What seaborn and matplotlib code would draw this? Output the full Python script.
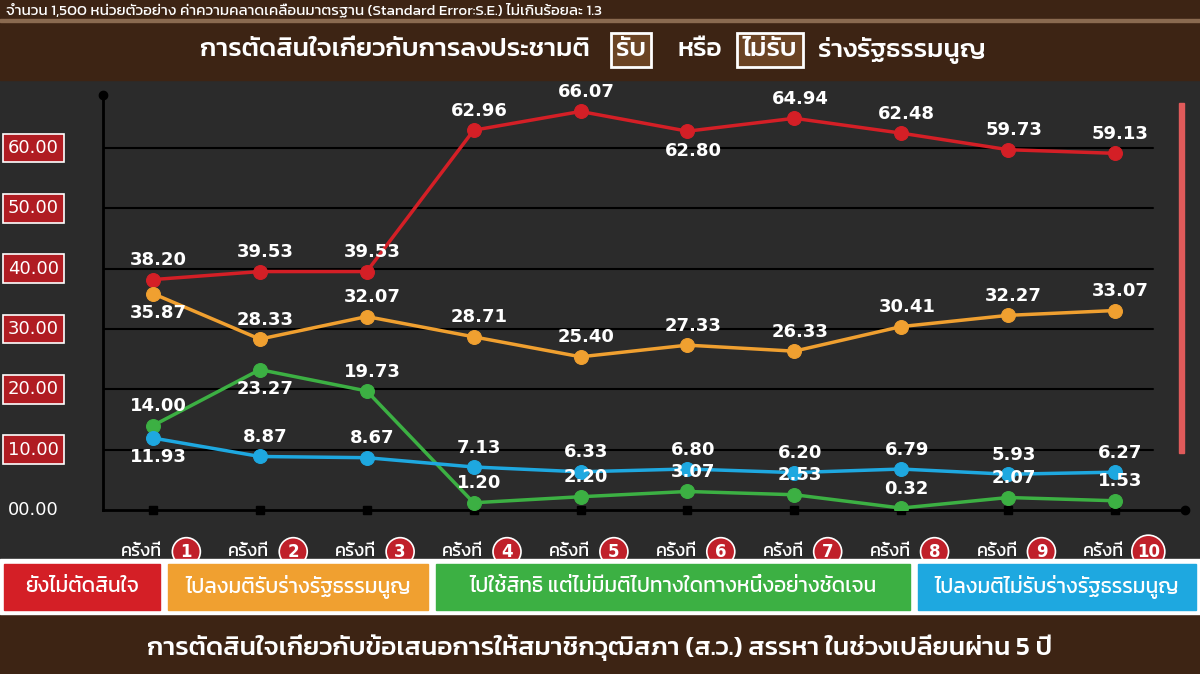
import numpy as np
import pandas as pd
import seaborn as sns
import matplotlib
matplotlib.use("Agg")
import matplotlib.pyplot as plt
from matplotlib.patches import Rectangle

rounds = ["1", "2", "3", "4", "5", "6", "7", "8", "9", "10"]
undecided = [38.20, 39.53, 39.53, 62.96, 66.07, 62.80, 64.94, 62.48, 59.73, 59.13]
accept = [35.87, 28.33, 32.07, 28.71, 25.40, 27.33, 26.33, 30.41, 32.27, 33.07]
novote = [14.00, 23.27, 19.73, 1.20, 2.20, 3.07, 2.53, 0.32, 2.07, 1.53]
reject = [11.93, 8.87, 8.67, 7.13, 6.33, 6.80, 6.20, 6.79, 5.93, 6.27]
yticks = [0, 10, 20, 30, 40, 50, 60]
ytick_labels = ["00.00", "10.00", "20.00", "30.00", "40.00", "50.00", "60.00"]
legend_labels = ["ยังไม่ตัดสินใจ", "ไปลงมติรับร่างรัฐธรรมนูญ",
                 "ไปใช้สิทธิ แต่ไม่มีมติไปทางใดทางหนึ่งอย่างชัดเจน", "ไปลงมติไม่รับร่างรัฐธรรมนูญ"]
colors = ["#d41f26", "#f0a030", "#3cb043", "#1ea8e0"]
# label placement: +1 above, -1 below
red_pos = [1, 1, 1, 1, 1, -1, 1, 1, 1, 1]
org_pos = [-1, 1, 1, 1, 1, 1, 1, 1, 1, 1]
grn_pos = [1, -1, 1, 1, 1, 1, 1, 1, 1, 1]
blu_pos = [-1, 1, 1, 1, 1, 1, 1, 1, 1, 1]

sns.set_theme(style="dark")
plt.rcParams['font.family'] = ['Kanit', 'DejaVu Sans']
NUM = ['DejaVu Sans']

brown = "#3d2414"
fig = plt.figure(figsize=(12, 6.74), dpi=100, facecolor="#2b2b2b")

# header / footer bands
fig.patches.append(Rectangle((0, 1 - 80 / 674), 1, 80 / 674, transform=fig.transFigure, color=brown, zorder=0))
fig.patches.append(Rectangle((0, 1 - 22 / 674), 1, 3 / 674, transform=fig.transFigure, color="#8a6a50", zorder=1))
fig.patches.append(Rectangle((0, 0), 1, 60 / 674, transform=fig.transFigure, color=brown, zorder=0))
fig.patches.append(Rectangle((0, 60 / 674), 1, 55 / 674, transform=fig.transFigure, color="white", zorder=0))
fig.text(0.005, 1 - 10 / 674, "จำนวน 1,500 หน่วยตัวอย่าง ค่าความคลาดเคลื่อนมาตรฐาน (Standard Error:S.E.) ไม่เกินร้อยละ 1.3",
         color="white", fontsize=11, va="center", ha="left")
ty = 1 - 50 / 674
tkw = dict(color="white", fontsize=19, fontweight="medium", va="center")
fig.text(590 / 1200, ty, "การตัดสินใจเกี่ยวกับการลงประชามติ", ha="right", **tkw)
fig.text(631 / 1200, ty, "รับ", ha="center", **tkw,
         bbox=dict(boxstyle="square,pad=0.2", fc="#6b4424", ec="white", lw=2))
fig.text(700 / 1200, ty, "หรือ", ha="center", **tkw)
fig.text(770 / 1200, ty, "ไม่รับ", ha="center", **tkw,
         bbox=dict(boxstyle="square,pad=0.2", fc="#6b4424", ec="white", lw=2))
fig.text(818 / 1200, ty, "ร่างรัฐธรรมนูญ", ha="left", **tkw)
fig.text(0.5, 26 / 674, "การตัดสินใจเกี่ยวกับข้อเสนอการให้สมาชิกวุฒิสภา (ส.ว.) สรรหา ในช่วงเปลี่ยนผ่าน 5 ปี",
         color="white", fontsize=19, fontweight="medium", ha="center", va="center")

# legend boxes
edges = [0, 164, 432, 914, 1200]
for i, lab in enumerate(legend_labels):
    x0 = (edges[i] + 4) / 1200
    w = (edges[i + 1] - edges[i] - 8) / 1200
    fig.patches.append(Rectangle((x0, 64 / 674), w, 46 / 674, transform=fig.transFigure, color=colors[i], zorder=1))
    fig.text(x0 + w / 2, 87 / 674, lab, color="white", fontsize=15, ha="center", va="center", zorder=2)

ax = fig.add_axes([103 / 1200, 1 - 510 / 674, 1082 / 1200, 415 / 674])
ax.set_facecolor("#2b2b2b")
x = np.arange(len(rounds))
df = pd.DataFrame({"x": x, "u": undecided, "a": accept, "n": novote, "r": reject})
series = [("u", red_pos), ("a", org_pos), ("n", grn_pos), ("r", blu_pos)]
for (col, pos), c in zip(series, colors):
    sns.lineplot(data=df, x="x", y=col, ax=ax, color=c, lw=2.5, marker="o", markersize=10,
                 markeredgecolor=c, zorder=3)
    for xi, yi, p in zip(df["x"], df[col], pos):
        ax.annotate(f"{yi:.2f}", (xi, yi), xytext=(4, 14 * p), textcoords="offset points",
                    ha="center", va="center", color="white", fontsize=13, fontweight="bold",
                    family=NUM, zorder=4)

ax.set_xlim(-0.468, 9.655)
ax.set_ylim(0, 68.8)
ax.set_yticks(yticks)
ax.set_yticklabels([])
ax.set_xticks(x)
ax.set_xticklabels([])
ax.tick_params(length=0)
ax.set_xlabel("")
ax.set_ylabel("")
ax.grid(False)
for t in yticks[1:]:
    ax.axhline(t, color="black", lw=1.5, xmax=0.97, zorder=1)
for s in ["top", "right"]:
    ax.spines[s].set_visible(False)
for s in ["left", "bottom"]:
    ax.spines[s].set_color("black")
    ax.spines[s].set_linewidth(2)
ax.plot([-0.468], [68.8], "o", color="black", ms=6, clip_on=False)
ax.plot([9.655], [0], "o", color="black", ms=6, clip_on=False)
ax.plot(x, np.zeros(len(x)), "s", color="black", ms=6, clip_on=False)
ax.add_patch(Rectangle((9.6, 9.4), 0.05, 58, color="#e05a5a", zorder=2, clip_on=False))

# y tick boxes
for t, lab in zip(yticks, ytick_labels):
    ax.annotate(lab, (0, t), xycoords=("axes fraction", "data"), xytext=(-50, 0), textcoords="offset points",
                ha="center", va="center", color="white", fontsize=13, family=NUM,
                bbox=dict(boxstyle="square,pad=0.3", fc="#2b2b2b" if t == 0 else "#b01c22",
                          ec="#2b2b2b" if t == 0 else "white", lw=1.2),
                annotation_clip=False)
# x labels
for xi, r in zip(x, rounds):
    ax.annotate("ครั้งที่", (xi, 0), xytext=(-8, -30), textcoords="offset points", ha="center", va="center",
                color="white", fontsize=13, annotation_clip=False)
    ax.annotate(r, (xi, 0), xytext=(24, -30), textcoords="offset points", ha="center", va="center",
                color="white", fontsize=12, fontweight="bold", family=NUM, annotation_clip=False,
                bbox=dict(boxstyle="circle,pad=0.3", fc="#c0202a", ec="white", lw=1.2))

fig.savefig("out.png", dpi=100, facecolor=fig.get_facecolor())
